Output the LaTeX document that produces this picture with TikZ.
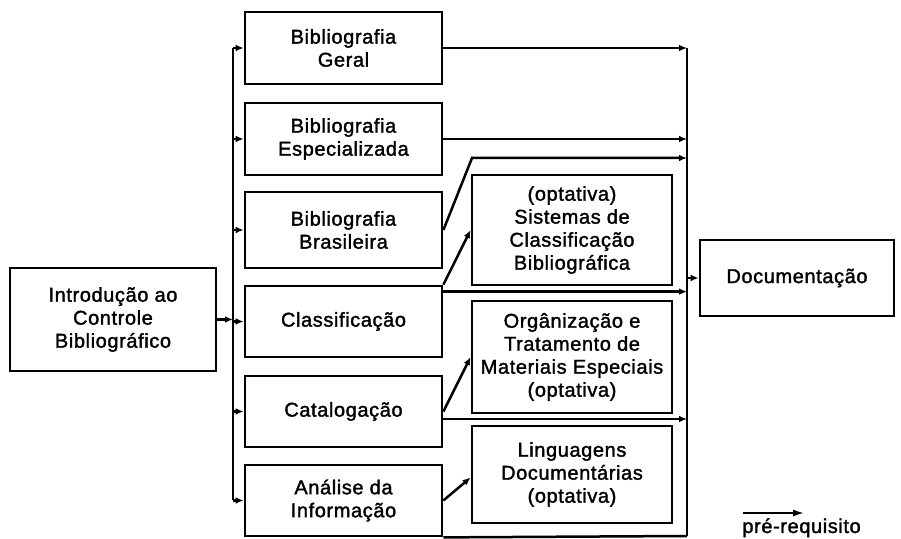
\documentclass[tikz,border=0pt]{standalone}
\usepackage{fontspec}
\setmainfont{Liberation Sans}[LetterSpace=3, FakeBold=1.6]
\usetikzlibrary{arrows.meta,calc}
\begin{document}
\begin{tikzpicture}[x=0.5pt,y=-0.5pt,
 bx/.style 2 args={draw, line width=1.4pt, minimum width=#1*0.5pt, minimum height=#2*0.5pt, inner sep=0pt, align=center, font=\fontsize{10pt}{11.5pt}\selectfont},
 con/.style={line width=1.25pt},
 arr/.style={con, -{Latex[length=4pt,width=3.4pt]}}]
\useasboundingbox (0,0) rectangle (901,539);

\node[bx={206}{103}] (intro) at (113,319.5) {Introdução ao\\Controle\\Bibliográfico};
\node[bx={197}{72}] (bg) at (343.5,48) {Bibliografia\\Geral};
\node[bx={197}{72}] (be) at (343.5,139) {Bibliografia\\Especializada};
\node[bx={197}{76}] (bb) at (343.5,230) {Bibliografia\\Brasileira};
\node[bx={197}{71}] (cl) at (343.5,321.5) {Classificação};
\node[bx={197}{71}] (ca) at (343.5,411.5) {Catalogação};
\node[bx={197}{71}] (an) at (343.5,500.5) {Análise da\\Informação};
\node[bx={200}{110}] (sis) at (572,230) {(optativa)\\Sistemas de\\Classificação\\Bibliográfica};
\node[bx={200}{112}] (org) at (572,357) {Orgânização e\\Tratamento de\\Materiais Especiais\\(optativa)};
\node[bx={200}{97}] (lin) at (572,474.5) {Linguagens\\Documentárias\\(optativa)};
\node[bx={194}{76}] (doc) at (797,278) {Documentação};

\coordinate (lbtop) at (233,48);
\coordinate (lbbot) at (233,500.5);
\coordinate (rbtop) at (687,48);
\coordinate (rbbot) at (687,536);
\coordinate (bend) at (472,158);
\coordinate (clo) at ($(cl.north east)+(0,7)$);
\coordinate (cao) at ($(ca.east)+(0,7.5)$);

\draw[con] (lbtop) -- (lbbot);
\foreach \n in {bg,be,bb,cl,ca,an} \draw[arr] (lbtop |- \n.west) -- (\n.west);
\draw[arr] (intro.east) -- (lbtop |- intro.east);

\draw[arr] (bg.east) -- (rbtop);
\draw[con] (rbtop) -- (rbbot);
\draw[arr] (be.east) -- (rbtop |- be.east);
\draw[arr] (bb.east) -- (bend) -- (rbtop |- bend);
\draw[arr] (cl.north east) -- (sis.west);
\draw[arr] (clo) -- (rbtop |- clo);
\draw[arr] (ca.east) -- (org.west);
\draw[arr] (cao) -- (rbtop |- cao);
\draw[arr] (an.east) -- ($(lin.west)+(0,3)$);
\draw[con] (an.south east) -- (rbbot);
\draw[arr] (rbtop |- doc.west) -- (doc.west);

\coordinate (la) at (743,513);
\coordinate (lb) at (805,513);
\draw[con, -{Latex[length=6pt,width=3.5pt]}] (la) -- (lb);
\node[anchor=base west, inner sep=0pt, font=\fontsize{10pt}{11.5pt}\selectfont] (leg) at (742,533) {pré-requisito};
\end{tikzpicture}
\end{document}
